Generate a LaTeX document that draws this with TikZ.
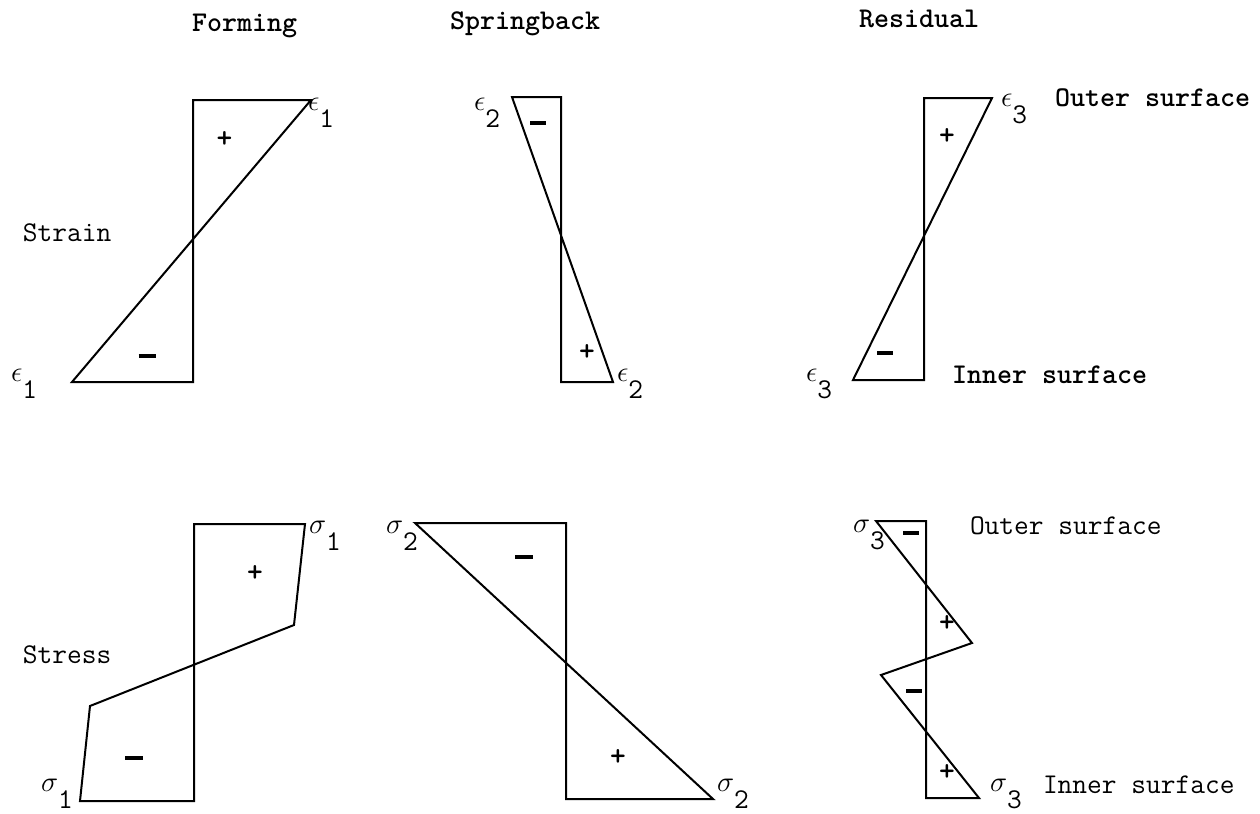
\documentclass[tikz,border=0pt]{standalone}
\newcommand{\symlbl}[2]{$#1$\raisebox{-8.8pt}{#2}}
\tikzset{
  txt/.style={font=\ttfamily\fontsize{14.3}{17}\selectfont, inner sep=0pt, anchor=base west},
  boldtxt/.style={txt, font=\ttfamily\bfseries\fontsize{14.3}{17}\selectfont},
  plussign/.style={font=\ttfamily\bfseries\fontsize{15}{17}\selectfont, inner sep=0pt},
  minussign/.style={inner sep=0pt}
}
\begin{document}
\begin{tikzpicture}[x=0.5pt, y=-0.5pt, line width=1pt, line join=miter]
	\useasboundingbox (0,0) rectangle (1260,814);
	\draw (191,31) node [boldtxt] (formhead) {Forming};
	\draw (449,29) node [boldtxt] (springhead) {Springback};
	\draw (858,27) node [boldtxt] (reshead) {Residual};
	\draw (22,241) node [txt] (strainlbl) {Strain};
	\draw (22,663) node [txt] (stresslbl) {Stress};
	% strain
	\draw (311,100) -- (193,100) -- (193,382) -- (72,382) -- cycle;
	\draw (512,97) -- (561,97) -- (561,382) -- (613,382) -- cycle;
	\draw (992,98) -- (924,98) -- (924,380) -- (853,380) -- cycle;
	\draw (307,110) node [txt] (epsAtop) {\symlbl{\epsilon}{1}};
	\draw (10,381) node [txt] (epsAbot) {\symlbl{\epsilon}{1}};
	\draw (473,110) node [txt] (epsBtop) {\symlbl{\epsilon}{2}};
	\draw (616,381) node [txt] (epsBbot) {\symlbl{\epsilon}{2}};
	\draw (1000,106) node [txt] (epsCtop) {\symlbl{\epsilon}{3}};
	\draw (805,381) node [txt] (epsCbot) {\symlbl{\epsilon}{3}};
	\draw (1054,106) node [boldtxt] (outerA) {Outer surface};
	\draw (951,383) node [boldtxt] (innerA) {Inner surface};
	\draw (224.5,139.7) node [plussign] (pA) {+};
	\draw (147.5,356) node [minussign] (mA) {\rule{9pt}{1.8pt}};
	\draw (538,123) node [minussign] (mB) {\rule{8pt}{1.8pt}};
	\draw (587,353) node [plussign] (pB) {+};
	\draw (947,137) node [plussign] (pC) {+};
	\draw (885,353) node [minussign] (mC) {\rule{8pt}{1.8pt}};
	% stress
	\draw (305,524) -- (194,524) -- (194,801) -- (80,801) -- (90,706) -- (294,625) -- cycle;
	\draw (415,523) -- (566,523) -- (566,799) -- (713,799) -- cycle;
	\draw (876,521) -- (926,521) -- (926,798) -- (979,798) -- (881,675) -- (972,643) -- cycle;
	\draw (308,533) node [txt] (sigAtop) {\symlbl{\sigma}{1}};
	\draw (40,791) node [txt] (sigAbot) {\symlbl{\sigma}{1}};
	\draw (385,533) node [txt] (sigBtop) {\symlbl{\sigma}{2}};
	\draw (716,791) node [txt] (sigBbot) {\symlbl{\sigma}{2}};
	\draw (852,532) node [txt] (sigCtop) {\symlbl{\sigma}{3}};
	\draw (989,791) node [txt] (sigCbot) {\symlbl{\sigma}{3}};
	\draw (969,534) node [txt] (outerB) {Outer surface};
	\draw (1042,793) node [txt] (innerB) {Inner surface};
	\draw (255,573) node [plussign] (pD) {+};
	\draw (134,758) node [minussign] (mD) {\rule{9pt}{1.8pt}};
	\draw (524,557) node [minussign] (mE) {\rule{9pt}{1.8pt}};
	\draw (618,757) node [plussign] (pE) {+};
	\draw (911,533) node [minussign] (mF) {\rule{8pt}{1.8pt}};
	\draw (947,623) node [plussign] (pF) {+};
	\draw (914,691) node [minussign] (mG) {\rule{8pt}{1.8pt}};
	\draw (947,772) node [plussign] (pG) {+};
\end{tikzpicture}
\end{document}
